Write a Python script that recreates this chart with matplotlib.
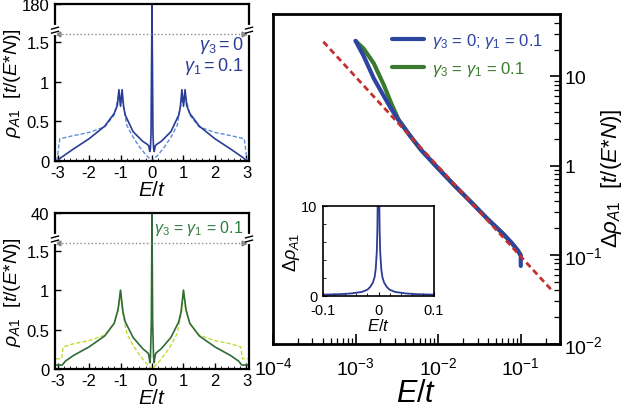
import numpy as np
import matplotlib
matplotlib.use('Agg')
import matplotlib.pyplot as plt

plt.rcParams['font.family'] = ['Liberation Sans', 'DejaVu Sans']
plt.rcParams['mathtext.fontset'] = 'custom'
plt.rcParams['mathtext.rm'] = 'Liberation Sans'
plt.rcParams['mathtext.it'] = 'Liberation Sans:italic'
plt.rcParams['mathtext.bf'] = 'Liberation Sans:bold'

# ---- data ----
# top-left panel (gamma3 = 0, gamma1 = 0.1)
E_top = [-3.0, -2.9, -2.5, -2.0, -1.5, -1.2, -1.1, -1.05, -1.0, -0.95, -0.9, -0.85,
         -0.6, -0.3, -0.15, -0.1, -0.085, -0.07, -0.05, -0.03, -0.015, -0.005, 0.0,
         0.005, 0.015, 0.03, 0.05, 0.07, 0.085, 0.1, 0.15, 0.3, 0.6, 0.85, 0.9, 0.95,
         1.0, 1.05, 1.1, 1.2, 1.5, 2.0, 2.5, 2.9, 3.0]
rho_top = [0.0, 0.04, 0.15, 0.28, 0.44, 0.6, 0.7, 0.9, 0.69, 0.9, 0.68, 0.58,
           0.37, 0.25, 0.21, 0.19, 0.15, 0.12, 0.16, 0.35, 1.2, 5.0, 175.0,
           5.0, 1.2, 0.35, 0.16, 0.12, 0.15, 0.19, 0.21, 0.25, 0.37, 0.58, 0.68, 0.9,
           0.69, 0.9, 0.7, 0.6, 0.44, 0.28, 0.15, 0.04, 0.0]
E_top_d = [-3.02, -2.93, -2.5, -2.0, -1.5, -1.2, -1.05, -1.0, -0.95, -0.8, -0.6,
           -0.4, -0.2, 0.0, 0.2, 0.4, 0.6, 0.8, 0.95, 1.0, 1.05, 1.2, 1.5, 2.0, 2.5,
           2.93, 3.02]
rho_top_d = [0.0, 0.28, 0.32, 0.36, 0.43, 0.58, 0.85, 0.72, 0.8, 0.45, 0.3,
             0.18, 0.08, 0.0, 0.08, 0.18, 0.3, 0.45, 0.8, 0.72, 0.85, 0.58, 0.43,
             0.36, 0.32, 0.28, 0.0]

# bottom-left panel (gamma3 = gamma1 = 0.1)
E_bot = [-3.05, -2.85, -2.75, -2.5, -2.0, -1.5, -1.2, -1.08, -1.0, -0.92, -0.85,
         -0.6, -0.3, -0.12, -0.085, -0.07, -0.05, -0.02, -0.005, 0.0,
         0.005, 0.02, 0.05, 0.07, 0.085, 0.12, 0.3, 0.6, 0.85, 0.92, 1.0, 1.08, 1.2,
         1.5, 2.0, 2.5, 2.75, 2.85, 3.05]
rho_bot = [0.05, 0.05, 0.1, 0.17, 0.28, 0.42, 0.58, 0.75, 1.0, 0.72, 0.6,
           0.4, 0.26, 0.2, 0.14, 0.08, 0.15, 0.6, 4.0, 38.0,
           4.0, 0.6, 0.15, 0.08, 0.14, 0.2, 0.26, 0.4, 0.6, 0.72, 1.0, 0.75, 0.58,
           0.42, 0.28, 0.17, 0.1, 0.05, 0.05]
E_bot_d = [-3.05, -2.87, -2.82, -2.5, -2.0, -1.5, -1.2, -1.05, -1.0, -0.95, -0.8,
           -0.6, -0.4, -0.2, 0.0, 0.2, 0.4, 0.6, 0.8, 0.95, 1.0, 1.05, 1.2, 1.5,
           2.0, 2.5, 2.82, 2.87, 3.05]
rho_bot_d = [0.13, 0.13, 0.28, 0.32, 0.36, 0.43, 0.58, 0.8, 1.0, 0.75, 0.45,
             0.3, 0.18, 0.08, 0.0, 0.08, 0.18, 0.3, 0.45, 0.75, 1.0, 0.8, 0.58, 0.43,
             0.36, 0.32, 0.28, 0.13, 0.13]

# right panel (log-log)
E_blue = [1.0e-3, 1.25e-3, 1.66e-3, 2.2e-3, 2.67e-3, 3.3e-3, 4.5e-3, 6.2e-3, 1.0e-2,
          1.57e-2, 2.5e-2, 4.0e-2, 6.0e-2, 7.8e-2, 9.2e-2, 1.0e-1, 1.0e-1]
drho_blue = [25, 17, 9.5, 6.0, 4.4, 3.25, 2.2, 1.5, 0.93,
             0.6, 0.39, 0.25, 0.175, 0.135, 0.112, 0.097, 0.075]
E_green = [1.0e-3, 1.25e-3, 1.66e-3, 2.2e-3, 2.7e-3, 3.3e-3, 4.5e-3, 6.2e-3, 1.0e-2,
           1.57e-2, 2.5e-2, 4.0e-2, 6.0e-2, 7.8e-2, 9.2e-2, 1.0e-1]
drho_green = [25, 20.5, 14, 8.0, 5.0, 3.3, 2.2, 1.5, 0.93,
              0.6, 0.39, 0.25, 0.175, 0.135, 0.112, 0.1]
E_fit = [4.07e-4, 0.239]
drho_fit = [24.5, 0.0398]

# inset
E_ins = [-0.1, -0.07, -0.05, -0.03, -0.02, -0.015, -0.01, -0.007, -0.005, -0.003,
         -0.002, -0.0012, 0.0, 0.0012, 0.002, 0.003, 0.005, 0.007, 0.01, 0.015,
         0.02, 0.03, 0.05, 0.07, 0.1]
drho_ins = [0.15, 0.2, 0.28, 0.45, 0.7, 1.0, 1.5, 2.1, 3.0, 5.0,
            7.5, 12, 12, 12, 7.5, 5.0, 3.0, 2.1, 1.5, 1.0,
            0.7, 0.45, 0.28, 0.2, 0.15]

BLUE = '#2b3c97'
LBLUE = '#5b8fd6'
GREEN = '#2f6b34'
YGREEN = '#c4da3a'
LGREEN = '#2e7d3c'
RED = '#c2302f'
RBLUE = '#2d44a0'
RGREEN = '#3b7a2e'

W, H = 625, 410
fig = plt.figure(figsize=(W / 100, H / 100), dpi=100)


def px_axes(x0, y0, x1, y1):
    return fig.add_axes([x0 / W, 1 - y1 / H, (x1 - x0) / W, (y1 - y0) / H])


BRK = 1.62
HUP = 0.36


def broken_panel(ax, top, E, rho, Ed, rhod, c, cd):
    def fwd(y):
        y = np.asarray(y, dtype=float)
        return np.where(y <= BRK, y, BRK + (y - BRK) / (top - BRK) * HUP)

    def inv(z):
        z = np.asarray(z, dtype=float)
        return np.where(z <= BRK, z, BRK + (z - BRK) / HUP * (top - BRK))

    ax.set_yscale('function', functions=(fwd, inv))
    ax.plot(Ed, rhod, color=cd, lw=1.0, ls=(0, (3, 1.5)))
    ax.plot(E, rho, color=c, lw=1.2)
    ax.set_xlim(-3.08, 3.08)
    ax.set_ylim(0, top)
    ax.set_yticks([0, 0.5, 1, 1.5, top])
    ax.set_yticklabels(['0', '0.5', '1', '1.5', str(int(top))])
    ax.set_xticks([-3, -2, -1, 0, 1, 2, 3])
    ax.set_xticks(np.arange(-3, 3.01, 0.2), minor=True)
    ax.set_xticklabels(['-3', '-2', '-1', '0', '1', '2', '3'])
    ax.tick_params(axis='both', direction='in', labelsize=12, length=4, width=1.0)
    ax.tick_params(axis='y', pad=4)
    ax.tick_params(axis='x', pad=3)
    ax.tick_params(axis='x', which='minor', direction='in', length=2)
    ax.tick_params(axis='y', which='minor', length=0)
    for s in ax.spines.values():
        s.set_linewidth(1.6)
    # dotted double arrow at the break level
    ax.plot([-2.98, 2.92], [1.6, 1.6], color='#888888', lw=1.0, ls=':')
    ax.plot([-2.98], [1.6], marker='<', color='#888888', ms=3.5)
    ax.plot([2.92], [1.6], marker='>', color='#888888', ms=3.5)
    # break marks on both spines
    yf = (BRK + 0.03) / (BRK + HUP)
    for xs in (0.0, 1.0):
        ax.plot([xs, xs], [yf - 0.018, yf + 0.018], transform=ax.transAxes,
                color='white', lw=3, clip_on=False, zorder=5)
        for dy in (-0.013, 0.013):
            ax.plot([xs - 0.018, xs + 0.018], [yf + dy - 0.006, yf + dy + 0.006],
                    transform=ax.transAxes, color='black', lw=1.0, clip_on=False, zorder=6)
    ax.set_xlabel('$\\mathit{E/t}$', fontsize=15, labelpad=0)
    ax.set_ylabel('$\\rho_{\\mathit{A1}}$  $\\mathit{[t/(E{*}N)]}$', fontsize=14)
    ax.yaxis.set_label_coords(-0.165, 0.5)


ax1 = px_axes(55, 5, 249, 162)
broken_panel(ax1, 180, E_top, rho_top, E_top_d, rho_top_d, BLUE, LBLUE)
ax1.text(0.97, 0.745, '$\\gamma_3 = 0$', transform=ax1.transAxes, ha='right',
         va='center', color=BLUE, fontsize=13)
ax1.text(0.97, 0.61, '$\\gamma_1 = 0.1$', transform=ax1.transAxes, ha='right',
         va='center', color=BLUE, fontsize=13)

ax2 = px_axes(55, 214, 249, 370)
broken_panel(ax2, 40, E_bot, rho_bot, E_bot_d, rho_bot_d, GREEN, YGREEN)
ax2.text(0.97, 0.905, '$\\gamma_3$ = $\\gamma_1$ = 0.1', transform=ax2.transAxes,
         ha='right', va='center', color=LGREEN, fontsize=11.5)

# right panel
ax3 = px_axes(273, 15, 560, 345)
ax3.set_xscale('log')
ax3.set_yscale('log')
ax3.plot(E_green, drho_green, color=RGREEN, lw=3, solid_capstyle='round',
         label='$\\gamma_3$ = $\\gamma_1$ = 0.1')
ax3.plot(E_blue, drho_blue, color=RBLUE, lw=3, solid_capstyle='round',
         label='$\\gamma_3$ = 0; $\\gamma_1$ = 0.1')
ax3.plot(E_fit, drho_fit, color=RED, lw=2, ls=(0, (2.2, 1.4)))
ax3.set_xlim(1e-4, 10 ** -0.525)
ax3.set_ylim(1e-2, 10 ** 1.7)
ax3.yaxis.tick_right()
ax3.set_xticks([1e-4, 1e-3, 1e-2, 1e-1])
ax3.set_xticklabels(['10$^{-4}$', '10$^{-3}$', '10$^{-2}$', '10$^{-1}$'])
ax3.set_yticks([1e-2, 1e-1, 1, 10])
ax3.set_yticklabels(['10$^{-2}$', '10$^{-1}$', '1', '10'])
ax3.tick_params(axis='both', which='major', direction='in', labelsize=14, length=7,
                width=1.2)
ax3.tick_params(axis='x', which='major', pad=9)
ax3.tick_params(axis='y', which='major', pad=3)
ax3.tick_params(axis='both', which='minor', direction='in', length=4, width=0.9)
ax3.tick_params(axis='y', which='both', left=False, right=True)
ax3.tick_params(axis='x', which='both', top=False)
for s in ax3.spines.values():
    s.set_linewidth(2)
ax3.set_xlabel('$\\mathit{E/t}$', fontsize=22, labelpad=0)
fig.text(611 / W, 1 - 178 / H, '$\\Delta\\rho_{\\mathit{A1}}$  $\\mathit{[t/(E{*}N)]}$',
         fontsize=16, rotation=90, ha='center', va='center')

handles, labels = ax3.get_legend_handles_labels()
leg = ax3.legend(handles[::-1], labels[::-1], loc='upper right', frameon=False,
                 fontsize=12, handlelength=1.9, handletextpad=0.5, labelspacing=0.55,
                 bbox_to_anchor=(0.995, 0.995))
for txt, col in zip(leg.get_texts(), [RBLUE, RGREEN]):
    txt.set_color(col)

# inset
ax4 = px_axes(323, 207, 434, 297)
ax4.plot(E_ins, drho_ins, color=BLUE, lw=1.3)
ax4.set_xlim(-0.1, 0.1)
ax4.set_ylim(0, 10)
ax4.set_xticks([-0.1, 0, 0.1])
ax4.set_xticklabels(['-0.1', '0', '0.1'])
ax4.set_xticks(np.arange(-0.1, 0.101, 0.02), minor=True)
ax4.set_yticks([0, 10])
ax4.set_yticks(np.arange(0, 10.1, 2), minor=True)
ax4.tick_params(axis='both', direction='in', labelsize=10.5, length=3)
ax4.tick_params(axis='x', pad=5)
ax4.tick_params(axis='y', pad=4)
ax4.tick_params(axis='both', which='minor', direction='in', length=2)
for s in ax4.spines.values():
    s.set_linewidth(1.2)
ax4.set_xlabel('$\\mathit{E/t}$', fontsize=12, labelpad=0)
ax4.set_ylabel('$\\Delta\\rho_{\\mathit{A1}}$', fontsize=13, labelpad=-1)

fig.savefig('out.png', dpi=100)
